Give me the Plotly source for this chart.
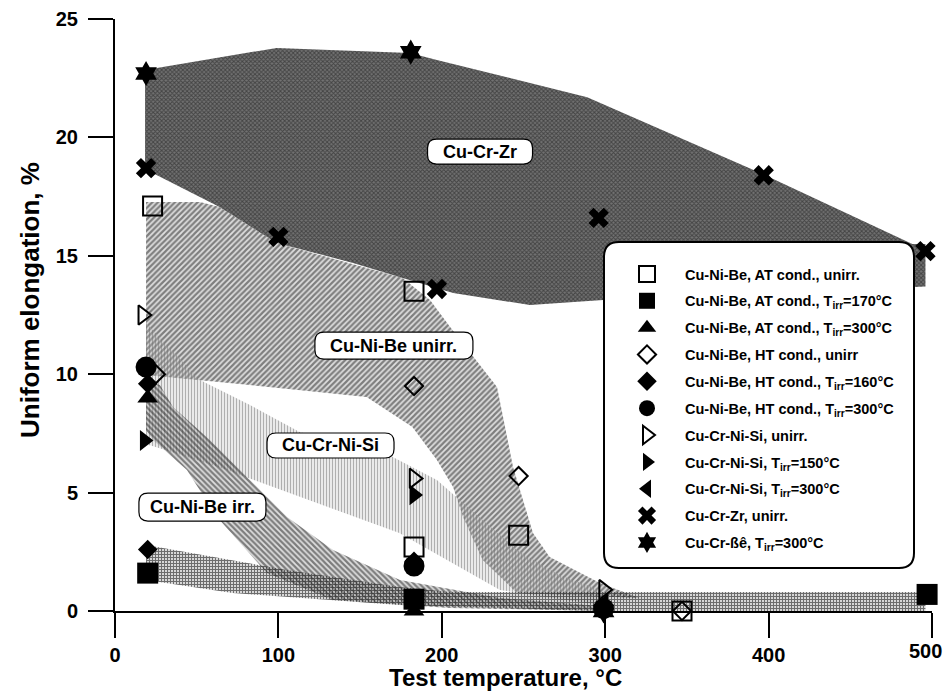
import plotly.graph_objects as go

# ---------------- data ----------------
# shaded bands (polygons in data coordinates: temperature, elongation)
zr_x = [18.4, 99, 180.5, 197, 289, 395, 488, 496, 496, 298.7, 254, 207, 176, 145.7, 99, 64, 23, 18.4]
zr_y = [22.85, 23.78, 23.56, 23.27, 21.7, 18.5, 15.5, 15.5, 13.7, 13.13, 12.92, 13.43, 14.06, 14.7, 15.54, 17.06, 18.5, 18.6]

unirr_x = [19, 52, 64, 99, 176, 192.8, 205, 233.8, 243.6, 255.8, 266, 296.8, 321,
           246, 225, 213, 206.9, 197, 182, 154, 82.6, 52, 19]
unirr_y = [17.27, 17.27, 17.06, 15.54, 14.06, 13.13, 12.0, 9.46, 6.08, 3.29, 2.28, 1.18, 0.55,
           0.76, 2.15, 3.97, 5.24, 6.38, 7.77, 9.04, 9.54, 9.76, 9.97]

crnisi_x = [19, 52, 82.6, 113, 170, 197, 225, 246, 272, 297, 297, 235.6, 174, 113, 68.5, 40, 21.4, 19]
crnisi_y = [12.16, 9.76, 8.7, 7.56, 6.5, 5.53, 3.84, 2.58, 1.52, 0.89, 0.25, 0.89, 3.29, 4.81, 5.95, 6.6, 7.0, 7.0]

irr_x = [19, 27.5, 35.5, 58.1, 76.5, 105.3, 133.4, 174.4, 235.6, 296.8, 296.8, 205, 133.4, 93, 62.4, 44, 23.3, 19]
irr_y = [9.7, 9.54, 8.61, 7.22, 5.95, 3.97, 2.58, 1.31, 0.55, 0.21, 0, 0.13, 0.46, 1.6, 3.97, 5.95, 7.22, 7.64]

grid_x = [19, 72, 105, 174, 205, 297, 496, 496, 297, 174, 133, 72, 19]
grid_y = [2.79, 2.15, 1.73, 1.01, 0.8, 0.8, 0.8, 0, 0, 0.25, 0.46, 0.76, 1.31]

# measured points
at_unirr_x = [23, 183, 183, 247, 347]
at_unirr_y = [17.1, 13.5, 2.7, 3.2, 0.0]
at_170_x = [20, 183, 497]
at_170_y = [1.6, 0.5, 0.7]
at_300_x = [20, 183]
at_300_y = [9.0, 0.0]
ht_unirr_x = [25, 183, 247, 347]
ht_unirr_y = [10.0, 9.5, 5.7, 0.0]
ht_160_x = [20, 20, 183]
ht_160_y = [9.6, 2.6, 2.1]
ht_300_x = [19, 183, 299]
ht_300_y = [10.3, 1.9, 0.1]
cns_unirr_x = [17, 183, 299]
cns_unirr_y = [12.5, 5.6, 0.9]
cns_150_x = [18, 183]
cns_150_y = [7.2, 4.9]
cns_300_x = [299]
cns_300_y = [0.3]
zr_unirr_x = [19, 100, 197, 296, 397, 496]
zr_unirr_y = [18.7, 15.8, 13.6, 16.6, 18.4, 15.2]
crbe_x = [19, 181, 299]
crbe_y = [22.7, 23.6, 0.0]

series_names = [
    "Cu-Ni-Be, AT cond., unirr.",
    "Cu-Ni-Be, AT cond., T<sub>irr</sub>=170°C",
    "Cu-Ni-Be, AT cond., T<sub>irr</sub>=300°C",
    "Cu-Ni-Be, HT cond., unirr",
    "Cu-Ni-Be, HT cond., T<sub>irr</sub>=160°C",
    "Cu-Ni-Be, HT cond., T<sub>irr</sub>=300°C",
    "Cu-Cr-Ni-Si, unirr.",
    "Cu-Cr-Ni-Si, T<sub>irr</sub>=150°C",
    "Cu-Cr-Ni-Si, T<sub>irr</sub>=300°C",
    "Cu-Cr-Zr, unirr.",
    "Cu-Cr-ßê, T<sub>irr</sub>=300°C",
]

band_labels = ["Cu-Cr-Zr", "Cu-Ni-Be unirr.", "Cu-Cr-Ni-Si", "Cu-Ni-Be irr."]
label_x = [223.4, 170.7, 131.9, 53.5]
label_y = [19.4, 11.21, 6.99, 4.39]

x_ticks = [0, 100, 200, 300, 400, 500]
x_tick_labels = ["0", "100", "200", "300", "400", "500"]
y_ticks = [0, 5, 10, 15, 20, 25]
x_title = "Test temperature, °C"
y_title = "Uniform elongation, %"

# ---------------- figure ----------------
FONT = "Liberation Sans, Arial, Helvetica, sans-serif"
W, H = 944, 691
ML, MR, MT, MB = 115, 12, 19, 80
XR = (0, 500)
YR = (0, 25)
pw, ph = W - ML - MR, H - MT - MB
ppx = pw / (XR[1] - XR[0])
ppy = ph / (YR[1] - YR[0])
TICKLEN = 25
TICKFONT = dict(family=FONT, size=20, color="black", weight="bold")

fig = go.Figure()


def band(x, y, shape, fg, bg, size, solidity):
    fig.add_trace(go.Scatter(
        x=x, y=y, mode="lines", fill="toself",
        line=dict(width=0, color="rgba(0,0,0,0)"),
        fillcolor="rgba(0,0,0,0)",
        fillpattern=dict(shape=shape, fgcolor=fg, bgcolor=bg, size=size, solidity=solidity),
        showlegend=False, hoverinfo="skip"))


band(unirr_x, unirr_y, "/", "#1e1e1e", "rgba(150,150,150,0.30)", 4, 0.55)
band(crnisi_x, crnisi_y, "|", "#6e6e6e", "rgba(200,200,200,0.25)", 3, 0.4)
band(irr_x, irr_y, "\\", "#1a1a1a", "rgba(150,150,150,0.30)", 4, 0.55)
band(grid_x, grid_y, "+", "#000000", "rgba(140,140,140,0.35)", 3, 0.55)
band(zr_x, zr_y, "x", "#151515", "#727272", 3, 0.55)

# label boxes (rounded) and texts
box_w = [105, 158, 127, 127]
box_h = [25, 27, 25, 28]
rad = 9
for lx, ly, bw, bh in zip(label_x, label_y, box_w, box_h):
    x0, x1 = lx - bw / 2 / ppx, lx + bw / 2 / ppx
    y0, y1 = ly - bh / 2 / ppy, ly + bh / 2 / ppy
    rx, ry = rad / ppx, rad / ppy
    path = (f"M {x0+rx},{y1} L {x1-rx},{y1} Q {x1},{y1} {x1},{y1-ry} "
            f"L {x1},{y0+ry} Q {x1},{y0} {x1-rx},{y0} L {x0+rx},{y0} "
            f"Q {x0},{y0} {x0},{y0+ry} L {x0},{y1-ry} Q {x0},{y1} {x0+rx},{y1} Z")
    fig.add_shape(type="path", path=path, xref="x", yref="y",
                  fillcolor="white", line=dict(color="black", width=1.2), layer="above")

for t, lx, ly in zip(band_labels, label_x, label_y):
    fig.add_annotation(x=lx, y=ly, text=t, showarrow=False,
                       font=dict(family=FONT, size=18, color="black", weight="bold"))

# markers
specs = [
    (at_unirr_x, at_unirr_y, "square-open", 19, 2),
    (at_170_x, at_170_y, "square", 21, 0),
    (at_300_x, at_300_y, "triangle-up", 18, 0),
    (ht_unirr_x, ht_unirr_y, "diamond-open", 14, 2),
    (ht_160_x, ht_160_y, "diamond", 15, 0),
    (ht_300_x, ht_300_y, "circle", 21, 0),
    (cns_unirr_x, cns_unirr_y, "triangle-right-open", 17, 2),
    (cns_150_x, cns_150_y, "triangle-right", 18, 0),
    (cns_300_x, cns_300_y, "triangle-left", 18, 0),
    (zr_unirr_x, zr_unirr_y, "x", 18, 0),
    (crbe_x, crbe_y, "hexagram", 19, 0),
]
for i, (xs, ys, sym, sz, lw) in enumerate(specs):
    fig.add_trace(go.Scatter(
        x=xs, y=ys, mode="markers", name=series_names[i], legendgroup=f"g{i}",
        marker=dict(symbol=sym, size=sz, color="black",
                    line=dict(color="black", width=lw)),
        cliponaxis=False))

# legend rounded frame (paper coords)
lx0, lx1 = (604 - ML) / pw, (914 - ML) / pw
ly0, ly1 = (H - MB - 568) / ph, (H - MB - 242) / ph
lr = 15
rxp, ryp = lr / pw, lr / ph
lpath = (f"M {lx0+rxp},{ly1} L {lx1-rxp},{ly1} Q {lx1},{ly1} {lx1},{ly1-ryp} "
         f"L {lx1},{ly0+ryp} Q {lx1},{ly0} {lx1-rxp},{ly0} L {lx0+rxp},{ly0} "
         f"Q {lx0},{ly0} {lx0},{ly0+ryp} L {lx0},{ly1-ryp} Q {lx0},{ly1} {lx0+rxp},{ly1} Z")
fig.add_shape(type="path", path=lpath, xref="paper", yref="paper",
              fillcolor="white", line=dict(color="black", width=2), layer="above")

# axis titles
fig.add_annotation(x=(505 - ML) / pw, y=(H - MB - 677) / ph, xref="paper", yref="paper",
                   text=x_title, showarrow=False, xanchor="center", yanchor="middle",
                   font=dict(family=FONT, size=24, color="black", weight="bold"))
fig.add_annotation(x=(30 - ML) / pw, y=(H - MB - 300) / ph, xref="paper", yref="paper",
                   text=y_title, showarrow=False, textangle=-90, xanchor="center", yanchor="middle",
                   font=dict(family=FONT, size=26, color="black", weight="bold"))

# last x tick label, nudged inward so it stays inside the page
fig.add_annotation(x=x_ticks[-1], y=0, xref="x", yref="paper", yanchor="top",
                   xanchor="right", xshift=12, yshift=-(TICKLEN + 2),
                   text=x_tick_labels[-1], showarrow=False, font=TICKFONT)

axis_common = dict(
    showgrid=False, zeroline=False, showline=True, linecolor="black", linewidth=2,
    ticks="outside", ticklen=TICKLEN, tickwidth=2, tickcolor="black",
    tickfont=TICKFONT,
)

fig.update_layout(
    width=W, height=H,
    margin=dict(l=ML, r=MR, t=MT, b=MB, autoexpand=False),
    paper_bgcolor="white", plot_bgcolor="white",
    xaxis=dict(range=list(XR), tickvals=x_ticks,
               ticktext=x_tick_labels[:-1] + [""], ticklabelstandoff=0, **axis_common),
    yaxis=dict(range=list(YR), tickvals=y_ticks, ticklabelstandoff=6, **axis_common),
    legend=dict(x=(609 - ML) / pw, y=(H - MB - 258) / ph, xanchor="left", yanchor="top",
                bgcolor="rgba(0,0,0,0)", borderwidth=0, traceorder="grouped",
                tracegroupgap=5, itemwidth=66,
                font=dict(family=FONT, size=14.5, color="black", weight="bold")),
    showlegend=True,
)

fig.write_html("out.html", config={"displayModeBar": False},
               post_script="document.body.style.margin='0';")
